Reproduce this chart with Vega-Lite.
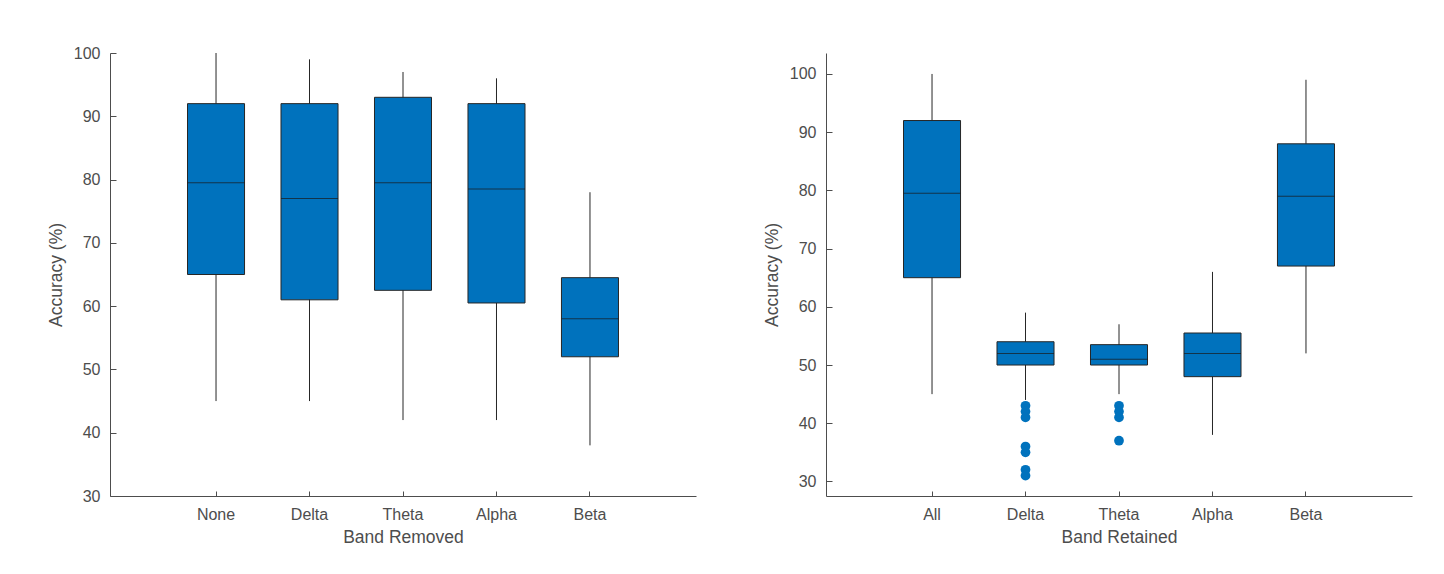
{
  "$schema": "https://vega.github.io/schema/vega-lite/v6.json",
  "background": "white",
  "padding": {"left": 47, "top": 45, "right": 5, "bottom": 5},
  "datasets": {
    "removed": [
      {"band": "None", "lower": 45, "q1": 65, "median": 79.5, "q3": 92, "upper": 100},
      {"band": "Delta", "lower": 45, "q1": 61, "median": 77, "q3": 92, "upper": 99},
      {"band": "Theta", "lower": 42, "q1": 62.5, "median": 79.5, "q3": 93, "upper": 97},
      {"band": "Alpha", "lower": 42, "q1": 60.5, "median": 78.5, "q3": 92, "upper": 96},
      {"band": "Beta", "lower": 38, "q1": 52, "median": 58, "q3": 64.5, "upper": 78}
    ],
    "retained": [
      {"band": "All", "lower": 45, "q1": 65, "median": 79.5, "q3": 92, "upper": 100},
      {"band": "Delta", "lower": 44, "q1": 50, "median": 52, "q3": 54, "upper": 59},
      {"band": "Theta", "lower": 45, "q1": 50, "median": 51, "q3": 53.5, "upper": 57},
      {"band": "Alpha", "lower": 38, "q1": 48, "median": 52, "q3": 55.5, "upper": 66},
      {"band": "Beta", "lower": 52, "q1": 67, "median": 79, "q3": 88, "upper": 99}
    ],
    "outliers": [
      {"band": "Delta", "accuracy": 43},
      {"band": "Delta", "accuracy": 42},
      {"band": "Delta", "accuracy": 41},
      {"band": "Delta", "accuracy": 36},
      {"band": "Delta", "accuracy": 35},
      {"band": "Delta", "accuracy": 32},
      {"band": "Delta", "accuracy": 31},
      {"band": "Theta", "accuracy": 43},
      {"band": "Theta", "accuracy": 42},
      {"band": "Theta", "accuracy": 41},
      {"band": "Theta", "accuracy": 37}
    ]
  },
  "hconcat": [
    {
      "width": 586,
      "height": 443,
      "data": {"name": "removed"},
      "resolve": {"axis": {"x": "independent", "y": "independent"}},
      "layer": [
        {
          "mark": {"type": "rule", "color": "#262626", "strokeWidth": 1},
          "encoding": {
            "x": {"field": "band", "type": "nominal", "sort": ["None", "Delta", "Theta", "Alpha", "Beta"], "scale": {"paddingInner": 0.39, "paddingOuter": 0.829}, "axis": {"title": "Band Removed"}},
            "y": {"field": "lower", "type": "quantitative", "scale": {"domain": [30, 100], "nice": false, "zero": false}, "axis": {"title": "Accuracy (%)", "values": [30, 40, 50, 60, 70, 80, 90, 100]}},
            "y2": {"field": "upper"}
          }
        },
        {
          "mark": {"type": "bar", "color": "#0072BD", "stroke": "#262626", "strokeWidth": 1},
          "encoding": {
            "x": {"field": "band", "type": "nominal", "sort": ["None", "Delta", "Theta", "Alpha", "Beta"], "axis": null},
            "y": {"field": "q1", "type": "quantitative", "axis": null},
            "y2": {"field": "q3"}
          }
        },
        {
          "mark": {"type": "tick", "color": "#1a1a1a", "thickness": 1, "size": 57},
          "encoding": {
            "x": {"field": "band", "type": "nominal", "sort": ["None", "Delta", "Theta", "Alpha", "Beta"], "axis": {"orient": "top", "offset": -443, "labels": false, "domain": false, "title": null, "ticks": true, "tickSize": 5}},
            "y": {"field": "median", "type": "quantitative", "axis": {"orient": "right", "offset": -586, "labels": false, "domain": false, "title": null, "ticks": true, "tickSize": 6, "values": [30, 40, 50, 60, 70, 80, 90, 100]}}
          }
        }
      ]
    },
    {
      "width": 586,
      "height": 443,
      "resolve": {"axis": {"x": "independent", "y": "independent"}},
      "layer": [
        {
          "data": {"name": "retained"},
          "mark": {"type": "rule", "color": "#262626", "strokeWidth": 1},
          "encoding": {
            "x": {"field": "band", "type": "nominal", "sort": ["All", "Delta", "Theta", "Alpha", "Beta"], "scale": {"domain": ["All", "Delta", "Theta", "Alpha", "Beta"], "paddingInner": 0.39, "paddingOuter": 0.829}, "axis": {"title": "Band Retained"}},
            "y": {"field": "lower", "type": "quantitative", "scale": {"domain": [27.5, 103.6], "nice": false, "zero": false}, "axis": {"title": "Accuracy (%)", "values": [30, 40, 50, 60, 70, 80, 90, 100]}},
            "y2": {"field": "upper"}
          }
        },
        {
          "data": {"name": "retained"},
          "mark": {"type": "bar", "color": "#0072BD", "stroke": "#262626", "strokeWidth": 1},
          "encoding": {
            "x": {"field": "band", "type": "nominal", "sort": ["All", "Delta", "Theta", "Alpha", "Beta"], "axis": null},
            "y": {"field": "q1", "type": "quantitative", "axis": null},
            "y2": {"field": "q3"}
          }
        },
        {
          "data": {"name": "retained"},
          "mark": {"type": "tick", "color": "#1a1a1a", "thickness": 1, "size": 57},
          "encoding": {
            "x": {"field": "band", "type": "nominal", "sort": ["All", "Delta", "Theta", "Alpha", "Beta"], "axis": {"orient": "top", "offset": -443, "labels": false, "domain": false, "title": null, "ticks": true, "tickSize": 5}},
            "y": {"field": "median", "type": "quantitative", "axis": {"orient": "right", "offset": -586, "labels": false, "domain": false, "title": null, "ticks": true, "tickSize": 6, "values": [30, 40, 50, 60, 70, 80, 90, 100]}}
          }
        },
        {
          "data": {"name": "outliers"},
          "mark": {"type": "circle", "color": "#0072BD", "opacity": 1, "size": 95},
          "encoding": {
            "x": {"field": "band", "type": "nominal", "sort": ["All", "Delta", "Theta", "Alpha", "Beta"], "axis": null},
            "y": {"field": "accuracy", "type": "quantitative", "axis": null}
          }
        }
      ]
    }
  ],
  "spacing": 130,
  "bounds": "flush",
  "config": {
    "view": {"stroke": null},
    "axis": {
      "grid": false,
      "domainColor": "#4d4d4d",
      "tickColor": "#4d4d4d",
      "labelColor": "#4d4d4d",
      "titleColor": "#4d4d4d",
      "labelFont": "Liberation Sans",
      "titleFont": "Liberation Sans",
      "labelFontSize": 16,
      "titleFontSize": 17.5,
      "titleFontWeight": "normal",
      "tickWidth": 1,
      "domainWidth": 1,
      "ticks": false,
      "tickSize": 0
    },
    "axisX": {"labelAngle": 0, "labelPadding": 10, "titlePadding": 6},
    "axisY": {"labelPadding": 10, "titlePadding": 8}
  }
}
